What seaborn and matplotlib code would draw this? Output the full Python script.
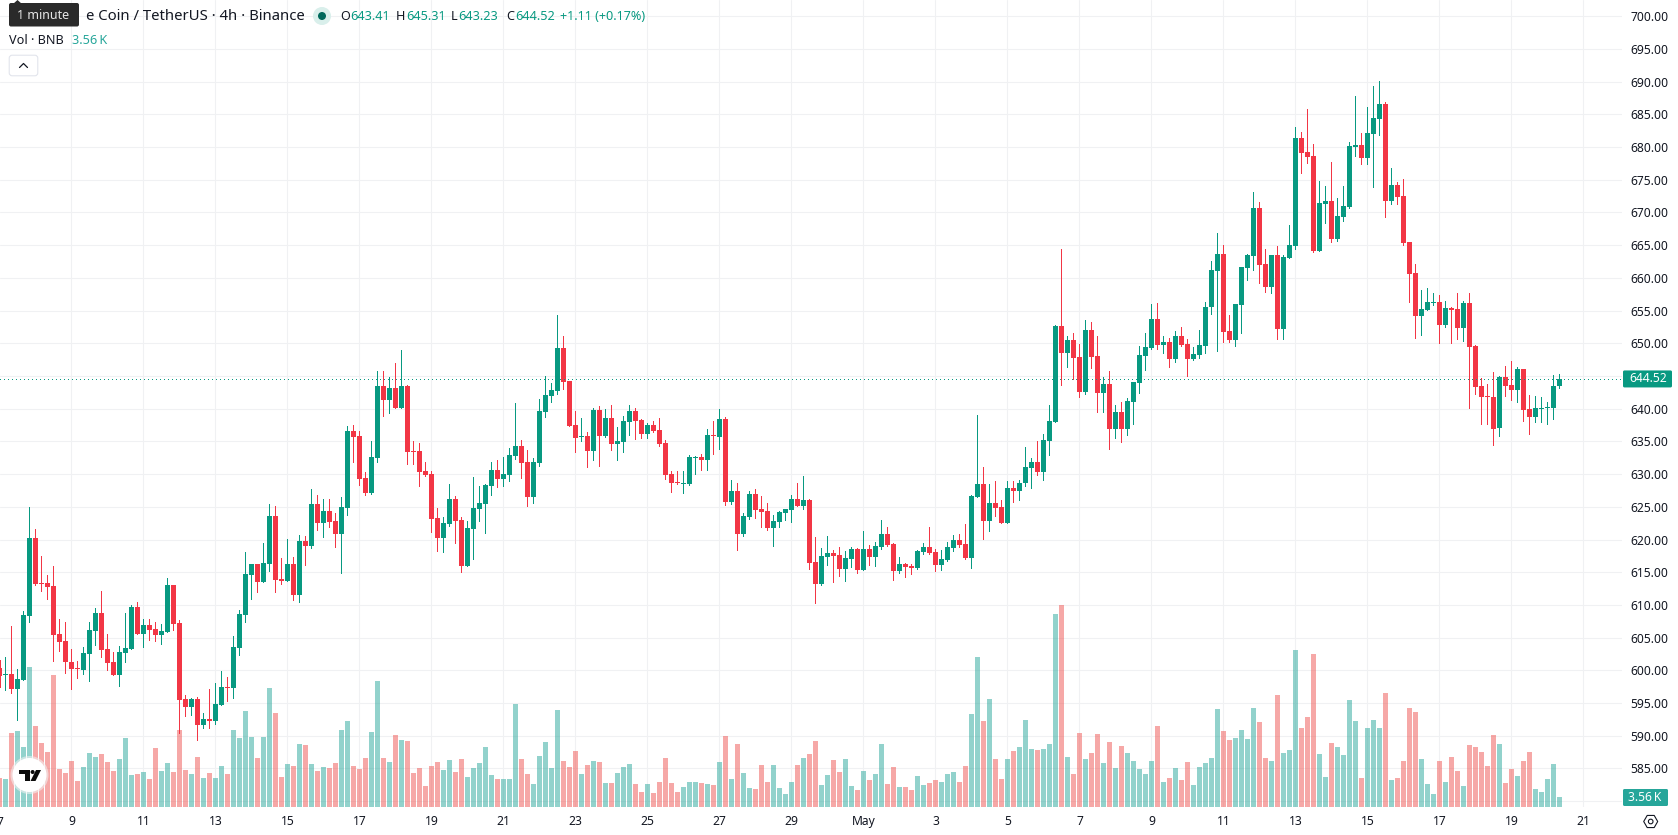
import numpy as np
import pandas as pd
import seaborn as sns
import matplotlib
matplotlib.use("Agg")
import matplotlib.pyplot as plt
from matplotlib.patches import Circle, FancyBboxPatch, Polygon, RegularPolygon

# BNB/USDT 4h candles, oldest first
open_px = [
    600.31,599.25,599.39,597.11,598.48,608.38,620.26,613.40,613.40,612.95,
    605.48,604.42,601.22,600.31,600.00,602.44,605.94,608.83,603.20,601.22,
    599.24,602.59,603.20,609.75,605.48,606.86,606.25,605.33,605.79,613.10,
    607.16,595.59,594.37,595.59,591.63,592.54,592.24,594.67,597.41,597.26,
    603.35,608.53,614.62,616.30,613.56,616.30,623.61,614.01,613.71,616.30,
    611.58,619.80,619.03,625.44,622.54,624.38,622.85,620.86,624.83,636.59,
    635.83,629.41,627.12,632.47,643.46,641.32,643.15,640.10,643.46,633.54,
    633.54,630.48,630.03,623.31,620.25,622.39,626.21,623.00,615.98,621.63,
    624.68,625.44,628.19,630.64,629.26,629.87,632.77,634.30,631.86,626.51,
    631.70,639.49,641.93,642.70,649.26,644.22,637.51,635.67,635.83,633.54,
    639.80,635.83,638.58,634.61,634.91,637.97,639.65,638.27,636.14,637.51,
    636.75,634.76,630.03,628.81,628.50,628.50,632.47,632.62,632.17,635.98,
    635.68,638.43,625.75,627.43,620.87,623.46,626.98,624.69,624.38,621.78,
    622.70,624.07,624.53,626.21,625.14,626.06,616.59,613.23,617.36,617.97,
    617.66,615.53,617.05,618.58,615.37,618.58,617.36,618.88,620.87,619.34,
    615.22,616.22,615.92,615.61,618.05,618.82,618.05,616.07,616.83,618.66,
    619.89,619.27,617.14,626.51,628.50,622.85,625.60,624.99,622.54,627.89,
    627.43,628.65,630.94,631.86,630.33,635.06,637.96,652.62,648.50,650.48,
    647.89,642.54,652.01,648.04,642.39,643.77,636.90,639.49,636.90,641.02,
    643.92,648.04,649.26,653.69,649.72,650.18,647.58,651.09,649.87,647.58,
    648.19,649.58,655.54,661.05,663.65,651.87,650.50,655.85,661.50,663.34,
    670.68,662.12,658.60,663.49,652.18,663.03,664.87,681.38,679.24,678.63,
    664.10,671.29,671.75,665.94,669.30,670.83,680.01,680.31,678.32,681.99,
    684.29,686.58,671.75,674.20,672.51,665.48,660.74,654.17,655.08,656.15,
    656.31,652.79,655.39,655.24,652.33,656.15,649.58,643.46,641.93,641.78,
    637.04,644.84,643.61,642.85,646.06,639.95,638.72,639.95,640.10,640.10,
    643.41,
]
high_px = [
    601.50,601.98,606.70,600.15,609.14,624.98,621.63,617.52,614.62,615.99,
    607.92,607.46,603.20,601.37,603.50,607.46,609.60,612.19,605.48,602.74,
    603.66,608.83,610.05,610.51,607.92,607.77,607.46,607.01,614.16,613.10,
    607.62,596.20,595.74,595.89,593.45,597.11,598.02,599.85,598.94,605.18,
    609.29,618.12,616.30,616.30,619.49,625.43,625.13,617.21,620.10,617.36,
    620.71,620.56,627.74,626.82,626.21,626.21,624.07,626.51,637.35,637.51,
    636.59,630.33,635.06,645.75,645.75,644.83,646.97,648.96,643.61,635.06,
    634.76,631.86,630.48,624.83,623.46,628.50,626.67,623.46,622.85,629.57,
    628.19,628.50,631.86,632.16,632.62,633.99,640.86,635.22,633.69,632.47,
    641.48,644.99,643.92,654.30,651.09,644.22,639.64,638.57,636.44,640.10,
    640.41,639.95,640.56,637.20,638.88,640.56,640.11,638.43,637.82,638.12,
    638.58,635.22,630.49,630.49,630.49,632.93,632.78,633.08,636.90,638.12,
    639.95,638.73,629.11,628.65,624.07,627.43,627.74,626.67,625.60,623.77,
    624.38,624.69,626.82,628.65,629.72,626.21,620.41,618.73,620.56,618.43,
    618.88,618.27,618.88,618.73,621.33,619.19,619.65,623.01,621.94,619.49,
    617.36,616.37,616.22,618.36,619.43,621.93,618.57,618.36,619.58,620.65,
    620.80,622.39,626.82,639.03,631.09,628.50,628.96,626.06,628.96,628.96,
    629.11,634.15,632.47,635.06,636.13,640.56,652.77,664.38,651.09,651.55,
    649.87,653.54,653.23,651.09,644.83,645.75,640.56,641.02,641.63,644.07,
    649.57,651.55,655.98,656.13,651.09,650.79,651.86,652.47,650.64,649.41,
    652.01,656.31,662.58,666.86,665.02,654.32,656.00,661.66,663.65,673.13,
    671.60,664.41,663.49,664.87,663.49,668.08,683.06,682.30,685.82,680.47,
    674.81,674.04,677.71,672.21,674.04,680.77,687.80,682.15,686.12,689.33,
    690.10,686.89,676.80,674.65,675.11,665.48,662.12,658.14,658.45,657.68,
    657.38,656.46,655.54,657.68,656.46,657.68,649.73,644.69,643.77,645.60,
    644.99,646.52,647.28,646.37,646.06,642.09,641.93,641.78,641.02,645.14,
    645.31,
]
low_px = [
    597.50,596.96,596.50,592.39,598.48,607.31,613.10,612.19,610.97,601.37,
    602.90,599.55,597.11,598.78,599.39,598.33,603.81,601.98,600.00,599.24,
    597.57,601.22,603.20,605.48,603.50,604.57,604.42,603.96,605.79,606.09,
    590.41,593.00,593.15,589.34,591.17,591.17,591.78,594.67,595.28,595.74,
    602.29,607.31,610.97,612.03,613.56,615.23,612.03,613.25,613.71,610.81,
    610.51,616.13,618.73,621.48,620.41,621.93,618.88,614.91,623.77,631.86,
    628.35,626.82,626.97,631.86,638.88,639.34,640.10,640.10,631.55,631.55,
    628.19,629.72,621.17,618.27,618.12,622.09,619.49,615.06,615.98,617.05,
    622.85,621.02,626.82,628.04,628.19,628.96,632.32,629.41,625.14,625.60,
    631.25,638.73,641.02,642.24,643.00,637.35,633.38,635.06,631.09,632.16,
    631.25,635.68,633.69,632.17,633.39,635.98,635.37,635.53,635.53,636.44,
    634.30,629.27,627.28,628.50,627.13,628.35,630.03,630.64,630.64,633.08,
    633.85,625.30,625.45,618.43,620.56,623.16,623.31,621.94,621.48,619.04,
    621.94,623.01,622.70,625.14,624.69,615.53,610.33,613.08,616.14,613.54,
    614.46,613.69,615.83,614.91,615.37,616.14,615.98,618.58,619.04,613.85,
    614.91,614.24,614.69,615.46,617.75,617.75,615.15,615.31,616.68,618.21,
    618.82,616.98,615.61,626.51,620.10,621.32,623.61,622.54,622.54,625.75,
    626.06,628.19,627.89,629.87,629.11,632.93,637.96,643.61,646.36,644.53,
    641.78,642.24,646.21,639.49,639.49,633.84,635.52,634.91,635.98,637.66,
    642.39,645.90,649.11,649.11,648.50,646.36,647.12,649.57,644.99,647.43,
    647.73,648.51,654.47,648.81,650.19,650.19,649.58,651.57,659.67,661.20,
    659.21,657.84,657.68,650.65,650.65,663.03,664.41,676.03,677.56,663.95,
    664.10,668.39,665.48,665.63,668.69,670.68,678.63,677.41,677.41,673.89,
    681.84,669.30,671.29,671.29,665.02,656.31,650.80,651.26,655.08,655.85,
    650.04,652.48,650.04,650.65,650.34,640.10,642.24,637.65,637.65,634.44,
    635.82,641.93,641.32,641.02,638.11,636.12,637.96,637.96,637.65,638.42,
    643.23,
]
close_px = [
    599.09,599.40,597.11,598.63,608.53,620.26,613.25,613.25,612.79,605.33,
    604.27,601.22,600.15,600.15,602.59,606.09,608.83,603.05,601.07,599.24,
    602.74,603.35,609.75,605.48,606.86,606.09,605.33,605.94,613.10,607.01,
    595.43,594.37,595.59,591.63,592.54,592.24,594.82,597.41,597.26,603.50,
    608.68,614.77,616.30,613.56,616.45,623.61,613.86,613.71,616.30,611.58,
    619.80,619.03,625.44,622.54,624.38,622.70,620.86,624.99,636.59,635.67,
    629.26,627.12,632.62,643.46,641.32,643.15,640.10,643.46,633.38,633.38,
    630.33,629.87,623.15,620.25,622.54,626.21,622.85,615.98,621.78,624.83,
    625.60,628.35,630.64,629.26,630.03,632.93,634.30,631.70,626.51,631.86,
    639.64,642.09,642.85,649.26,644.07,637.35,635.52,635.83,633.54,639.80,
    635.83,638.58,634.61,635.07,638.12,639.65,638.12,636.14,637.51,636.59,
    634.61,629.88,628.65,628.65,628.65,632.62,632.62,632.17,635.98,635.83,
    638.43,625.75,627.43,620.87,623.62,626.98,624.53,624.23,621.78,622.85,
    624.23,624.69,626.21,625.14,626.06,616.44,613.23,617.51,617.97,617.51,
    615.53,617.20,618.58,615.37,618.58,617.36,619.04,620.87,619.19,615.22,
    616.29,615.76,615.61,618.21,618.82,617.90,616.07,616.98,618.82,619.89,
    619.12,617.14,626.67,628.50,622.85,625.60,624.83,622.54,627.89,627.43,
    628.65,631.09,631.86,630.33,635.22,638.12,652.62,648.50,650.48,647.73,
    642.54,652.01,647.89,642.39,643.77,636.90,639.49,636.90,641.17,644.07,
    648.19,649.41,653.69,649.72,650.18,647.58,651.09,649.72,647.58,648.35,
    649.72,655.54,661.20,663.65,651.72,650.50,656.00,661.66,663.49,670.68,
    661.96,658.60,663.49,652.18,663.19,665.02,681.38,679.09,678.48,664.10,
    671.44,671.75,665.94,669.46,670.98,680.16,680.31,678.32,682.15,684.44,
    686.58,671.75,674.20,672.36,665.33,660.59,654.17,655.24,656.31,656.31,
    652.79,655.39,655.08,652.33,656.15,649.43,643.31,641.78,641.78,636.89,
    644.84,643.46,642.85,646.06,639.79,638.72,640.10,640.10,640.25,643.46,
    644.52,
]
# Traded volume per candle, thousands of BNB
volume_k = [
    10.6,10.2,27.1,27.9,22.0,51.5,29.7,23.5,20.1,48.5,
    13.9,12.4,16.8,9.5,14.6,19.8,18.3,19.4,16.5,13.1,
    17.6,25.3,11.7,12.0,12.8,10.2,21.6,13.1,16.1,12.8,
    28.2,13.5,12.0,18.3,10.6,12.4,10.6,15.0,12.0,28.2,
    25.3,35.2,25.7,17.9,25.7,43.7,34.5,10.9,15.7,15.0,
    23.1,22.7,15.7,13.1,14.6,14.2,16.1,28.2,31.6,15.0,
    13.9,17.9,27.5,46.3,17.9,16.5,26.4,24.6,24.2,12.4,
    14.2,7.6,15.0,16.5,13.5,17.2,12.8,17.6,10.9,14.2,
    16.1,22.0,11.7,10.2,10.2,10.2,37.8,17.6,12.0,8.4,
    18.7,23.8,14.2,35.6,16.8,14.6,20.5,12.0,15.4,16.8,
    16.5,8.7,8.7,12.4,14.6,15.7,8.4,5.4,8.4,5.0,
    9.1,17.9,8.7,5.4,7.2,9.1,9.1,8.7,8.4,8.0,
    16.5,26.0,10.2,23.1,12.4,6.9,6.5,15.4,9.1,15.4,
    6.9,4.7,9.1,15.4,17.9,19.4,24.2,8.0,11.7,17.2,
    12.8,17.6,7.6,6.1,13.1,9.8,12.0,23.1,8.4,14.6,
    7.2,7.2,6.1,11.3,8.0,8.7,9.8,9.1,12.0,12.8,
    9.1,15.0,34.1,55.1,31.6,39.7,17.6,10.2,17.6,20.5,
    22.0,31.9,21.2,20.9,21.2,23.1,71.0,74.3,18.3,12.0,
    27.1,17.6,19.8,26.8,16.1,23.8,14.2,22.3,19.8,16.8,
    13.9,12.0,16.8,29.7,9.1,10.6,14.2,9.8,16.5,8.0,
    14.6,16.1,17.9,36.0,27.9,24.6,25.3,28.2,24.9,36.3,
    31.2,17.9,16.8,41.1,19.8,20.9,57.7,29.0,33.0,56.2,
    19.4,10.9,23.5,22.0,19.0,39.3,31.6,10.6,29.0,31.9,
    29.0,41.9,9.8,10.6,16.8,36.3,34.9,17.6,8.4,4.7,
    16.8,9.1,18.3,13.1,7.6,22.7,22.0,20.1,15.0,26.4,
    23.1,8.7,13.9,11.3,16.8,20.1,6.5,5.4,10.2,15.7,
    3.56,
]
# The time axis is labelled every 12 candles, starting at the first candle
day_labels = ["7", "9", "11", "13", "15", "17", "19", "21", "23", "25", "27", "29",
              "May", "3", "5", "7", "9", "11", "13", "15", "17", "19", "21"]
price_ticks = list(range(580, 705, 5))
unlabelled_prices = [580, 645]  # behind the volume and last-price tags
last_price = 644.52
last_volume = "3.56\u2009K"

UP, DOWN = "#089981", "#F23645"
VOL_UP, VOL_DOWN = "#26a69a", "#ef5350"
INK = "#131722"
GRID = "#f0f1f3"

W, H = 1678, 835
PANE_W, PANE_H = 1622, 807

sns.set_theme(style="white")
plt.rcParams["font.family"] = ["Noto Sans", "DejaVu Sans"]

df = pd.DataFrame({"open": open_px, "high": high_px, "low": low_px,
                   "close": close_px, "volume": volume_k})
df["t"] = np.arange(len(df))
df["dir"] = np.where(df["close"] >= df["open"], "up", "down")

fig = plt.figure(figsize=(W / 100, H / 100), dpi=100, facecolor="white")
rect = [0, (H - PANE_H) / H, PANE_W / W, PANE_H / H]
xlim = (0.5 / 6, (PANE_W + 0.5) / 6)
ylim = (579.10, 702.49)

# Back pane: grid and axis labels
ax_back = fig.add_axes(rect, zorder=1)
ax_back.set_xlim(xlim)
ax_back.set_ylim(ylim)
ax_back.set_yticks(price_ticks)
ax_back.set_yticklabels(["" if p in unlabelled_prices else f"{p:.2f}" for p in price_ticks],
                        fontsize=8.7, color=INK)
ax_back.yaxis.tick_right()
day_pos = np.arange(len(day_labels)) * 12
ax_back.set_xticks(day_pos[1:])
ax_back.set_xticklabels(day_labels[1:], fontsize=8.7, color=INK)
for lab in ax_back.get_xticklabels():
    if lab.get_text() == "May":
        lab.set_fontweight("bold")
ax_back.tick_params(axis="both", length=0)
ax_back.tick_params(axis="y", pad=5.8)
ax_back.tick_params(axis="x", pad=5.5)
ax_back.grid(True, color=GRID, lw=0.75)
sns.despine(ax=ax_back, left=True, bottom=True, right=True, top=True)

# Volume histogram, translucent over the grid
ax_vol = fig.add_axes(rect, zorder=2, facecolor="none")
sns.barplot(data=df, x="t", y="volume", hue="dir", dodge=False, native_scale=True,
            palette={"up": VOL_UP, "down": VOL_DOWN}, saturation=1, alpha=0.5,
            width=5 / 6, linewidth=0, legend=False, ax=ax_vol)
ax_vol.set_xlim(xlim)
ax_vol.set_ylim(0, 297.3)
ax_vol.axis("off")

# Candles: one-pixel wicks and solid bodies
ax = fig.add_axes(rect, zorder=3, facecolor="none")
ax.set_xlim(xlim)
ax.set_ylim(ylim)
colors = np.where(df["dir"] == "up", UP, DOWN)
ax.vlines(df["t"], df["low"], df["high"], colors=colors, lw=0.72, antialiased=False)
ax.bar(df["t"], (df["close"] - df["open"]).abs(), bottom=df[["open", "close"]].min(axis=1),
       width=5 / 6, color=colors, linewidth=0)
ax.axhline(last_price, color=UP, lw=0.72, ls=(0, (1, 3)), antialiased=False)
ax.axis("off")

# Chart furniture, placed in figure pixels with the origin at the top left
ui = fig.add_axes([0, 0, 1, 1], zorder=4, facecolor="none")
ui.set_xlim(0, W)
ui.set_ylim(H, 0)
ui.axis("off")


def tag(x0, x1, y0, y1, color, text, tx):
    ui.add_patch(FancyBboxPatch((x0 + 1, y0 + 1), x1 - x0 - 2, y1 - y0 - 2,
                                boxstyle="round,pad=1,rounding_size=1.5", fc=color, ec="none"))
    ui.text(tx, (y0 + y1) / 2 - 0.3, text, color="white", fontsize=8.7, ha="center", va="center")


y_last = 408.7 + (640 - last_price) * 6.54
tag(1623, 1672, y_last - 8.7, y_last + 8.3, UP, f"{last_price:.2f}", 1648.5)
tag(1623, 1668, 789, 806, VOL_UP, last_volume, 1645)

ui.text(-0.5, 822, day_labels[0], fontsize=8.7, color=INK, ha="center", va="center")

# Settings button in the corner of the time axis
ui.add_patch(RegularPolygon((1650.7, 821.5), 6, radius=7, orientation=np.pi / 6,
                            fc="white", ec=INK, lw=0.8))
ui.add_patch(Circle((1650.7, 821.5), 2.3, fc="white", ec=INK, lw=0.8))

# Legend rows
ui.text(304.5, 16, "e Coin / TetherUS · 4h · Binance", fontsize=10.7, color=INK,
        ha="right", va="center")
ui.add_patch(Circle((322, 16), 9, fc="#d9efeb", ec="none"))
ui.add_patch(Circle((322, 16), 4, fc="#00695c", ec="none"))
for x, letter, value in [(340, "O", "643.41"), (396, "H", "645.31"),
                         (451, "L", "643.23"), (506, "C", "644.52")]:
    ui.text(x, 16, letter, fontsize=9.1, color=INK, ha="left", va="center")
    off = {"O": 10, "H": 10, "L": 7.5, "C": 9}[letter]
    ui.text(x + off, 16, value, fontsize=9.1, color=UP, ha="left", va="center")
ui.text(560, 16, "+1.11 (+0.17%)", fontsize=9.1, color=UP, ha="left", va="center")
ui.text(9, 40.5, "Vol · BNB", fontsize=9.1, color=INK, ha="left", va="center")
ui.text(72, 40.5, last_volume, fontsize=9.1, color=VOL_UP, ha="left", va="center")

# Collapse button
ui.add_patch(FancyBboxPatch((10, 56), 27, 19, boxstyle="round,pad=0.8,rounding_size=3",
                            fc="white", ec="#e0e3eb", lw=0.75))
ui.plot([19.5, 23.5, 27.5], [67.5, 63.5, 67.5], color=INK, lw=0.9)

# Hover tooltip at the start of the title
ui.add_patch(Polygon([[13, 4], [17.5, 0], [22, 4]], fc="#2a2a2a", ec="none"))
ui.add_patch(FancyBboxPatch((11, 5), 66, 19.5, boxstyle="round,pad=2,rounding_size=2",
                            fc="#2a2a2a", ec="none"))
ui.text(43, 15.8, "1 minute", fontsize=9, color="#e6e6e6", ha="center", va="center")

# Platform badge at the lower left
ui.add_patch(Circle((29.5, 775), 19, fc="#f1f1f1", ec="none", alpha=0.6))
ui.add_patch(Circle((29.5, 775), 17, fc="white", ec="none"))
ui.add_patch(Polygon([[19, 770], [30, 770], [30, 781], [24.5, 781], [24.5, 773.8], [19, 773.8]],
                     fc="#0b0b0b", ec="none"))
ui.add_patch(Circle((32.6, 772), 2, fc="#0b0b0b", ec="none"))
ui.add_patch(Polygon([[36, 770], [41, 770], [35.5, 781], [30.5, 781]], fc="#0b0b0b", ec="none"))

fig.savefig("out.png", dpi=100, facecolor="white")
